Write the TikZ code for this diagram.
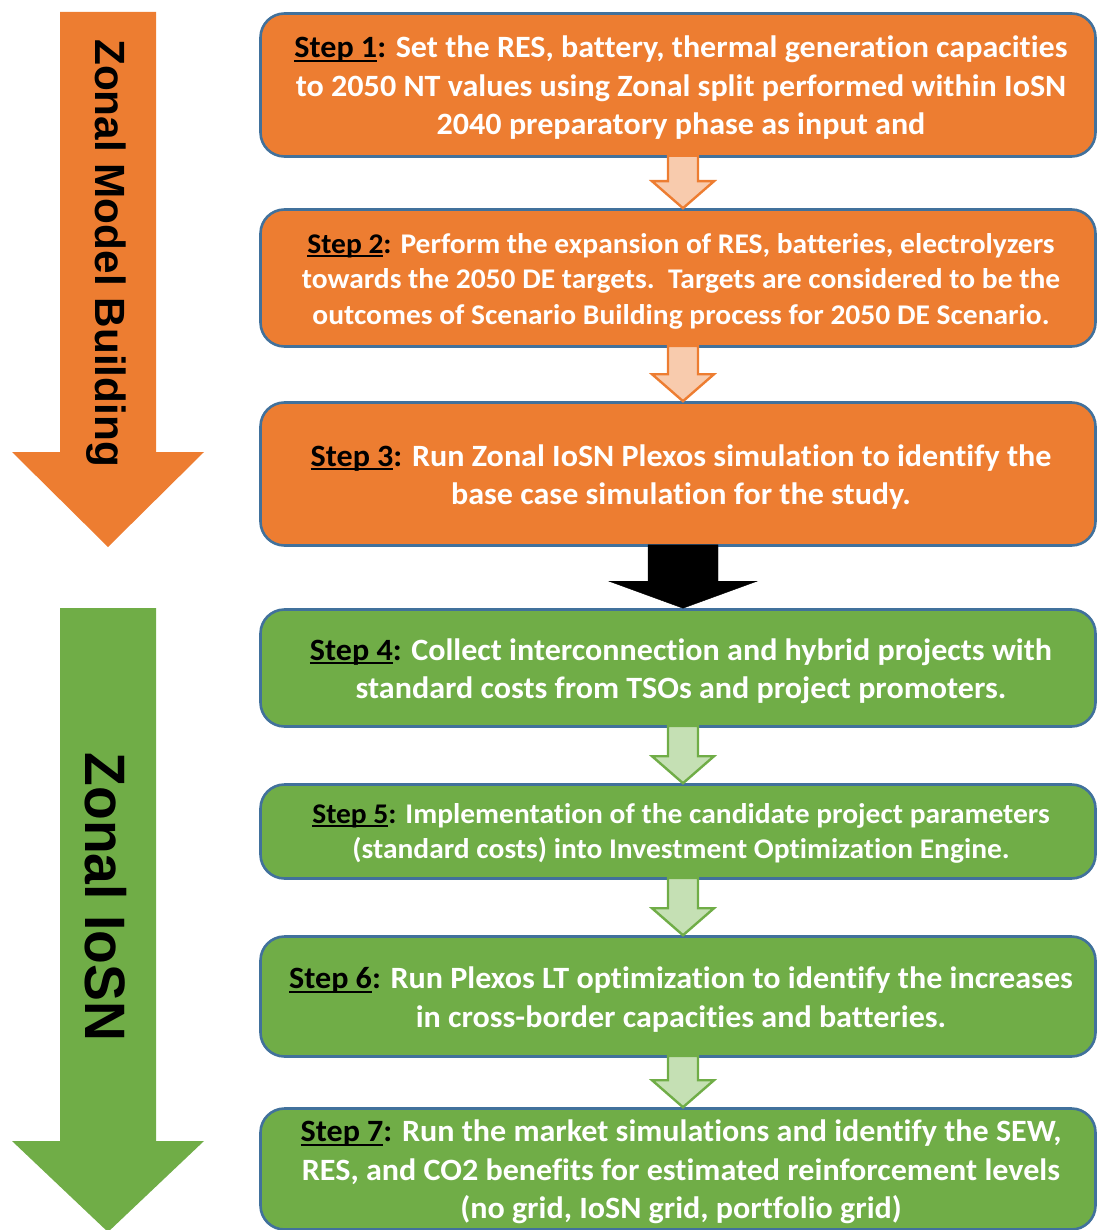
\documentclass[tikz,border=0pt]{standalone}
\usepackage{fontspec}
\setmainfont{Carlito}[Ligatures={NoCommon}, FakeStretch=1.035]
\newfontfamily\sidefont{Liberation Sans}
\newfontfamily\sidefontnarrow{Liberation Sans}[FakeStretch=0.97]
\usetikzlibrary{calc}

\definecolor{stepOrange}{HTML}{ED7D31}
\definecolor{stepGreen}{HTML}{70AD47}
\definecolor{edgeBlue}{HTML}{41719C}
\definecolor{paleOrange}{HTML}{F8CBAD}
\definecolor{paleGreen}{HTML}{C5E0B4}

% underlined step label in black, followed by a black colon
\newcommand\steplabel[1]{\textcolor{black}{\setbox0\hbox{Step #1}\rlap{\raisebox{-4pt}{\rule{\wd0}{1.9pt}}}\box0:}}

% block arrow linking two boxes: style, from, to, shaft half width, head half width, head length
\newcommand\linkarrow[6]{%
  \draw[#1] let \p1=($(#2.south)+(5pt,0)$), \p2=($(#3.north)+(5pt,0)$) in
    (\x1-#4,\y1+2pt) -- (\x1+#4,\y1+2pt) -- (\x1+#4,\y2+#6) -- (\x1+#5,\y2+#6)
    -- (\x2,\y2) -- (\x1-#5,\y2+#6) -- (\x1-#4,\y2+#6) -- cycle;}

\tikzset{
  stepbox/.style={draw=edgeBlue, line width=2.6pt, rounded corners=24pt,
    minimum width=835pt, inner sep=0pt},
  orangebox/.style={stepbox, fill=stepOrange},
  greenbox/.style={stepbox, fill=stepGreen},
  steptext/.style={align=center, text=white, inner sep=0pt,
    font=\bfseries\fontsize{31}{38.5}\selectfont},
  smalltext/.style={steptext, font=\bfseries\fontsize{28.5}{35.5}\selectfont},
  orangelink/.style={fill=paleOrange, draw=stepOrange, line width=2.4pt, line join=miter},
  greenlink/.style={fill=paleGreen, draw=stepGreen, line width=2.4pt, line join=miter},
  blacklink/.style={fill=black},
  sidelabel/.style={rotate=-90, text=black}
}

\begin{document}
\begin{tikzpicture}[x=1pt, y=-1pt]
\useasboundingbox (0,0) rectangle (1098,1230);

% side arrows
\fill[stepOrange] (60,12) -- (156,12) -- (156,452) -- (204,452) -- (108,547) -- (12,452) -- (60,452) -- cycle;
\fill[stepGreen] (60,608) -- (156,608) -- (156,1141) -- (204,1141) -- (108,1232) -- (12,1141) -- (60,1141) -- cycle;
\node[sidelabel, font=\sidefont\bfseries\fontsize{42.3}{42.3}\selectfont] (zmb) at (106,253) {Zonal Model Building};
\node[sidelabel, font=\sidefontnarrow\bfseries\fontsize{57}{57}\selectfont] (zio) at (106,897) {Zonal IoSN};

% step boxes
\node[orangebox, minimum height=143pt] (b1) at (678,85) {};
\node[orangebox, minimum height=137pt] (b2) at (678,278) {};
\node[orangebox, minimum height=143pt] (b3) at (678,474) {};
\node[greenbox, minimum height=117pt] (b4) at (678,668) {};
\node[greenbox, minimum height=94pt] (b5) at (678,831.5) {};
\node[greenbox, minimum height=120pt] (b6) at (678,996.5) {};
\node[greenbox, minimum height=121pt] (b7) at (678,1169) {};

% step texts
\node[steptext] (t1) at ($(b1.center)+(3,3)$)
  {\steplabel{1} Set the RES, battery, thermal generation capacities\\
   to 2050 NT values using Zonal split performed within IoSN\\
   2040 preparatory phase as input and};
\node[smalltext] (t2) at ($(b2.center)+(3,3)$)
  {\steplabel{2} Perform the expansion of RES, batteries, electrolyzers\\
   towards the 2050 DE targets.\ \ Targets are considered to be the\\
   outcomes of Scenario Building process for 2050 DE Scenario.};
\node[steptext] (t3) at ($(b3.center)+(3,3)$)
  {\steplabel{3} Run Zonal IoSN Plexos simulation to identify the\\
   base case simulation for the study.};
\node[steptext] (t4) at ($(b4.center)+(3,3)$)
  {\steplabel{4} Collect interconnection and hybrid projects with\\
   standard costs from TSOs and project promoters.};
\node[smalltext] (t5) at ($(b5.center)+(3,2)$)
  {\steplabel{5} Implementation of the candidate project parameters\\
   (standard costs) into Investment Optimization Engine.};
\node[steptext] (t6) at ($(b6.center)+(3,3)$)
  {\steplabel{6} Run Plexos LT optimization to identify the increases\\
   in cross-border capacities and batteries.};
\node[steptext] (t7) at ($(b7.center)+(3,3)$)
  {\steplabel{7} Run the market simulations and identify the SEW,\\
   RES, and CO2 benefits for estimated reinforcement levels\\
   (no grid, IoSN grid, portfolio grid)};

% links between steps
\linkarrow{orangelink}{b1}{b2}{15pt}{31pt}{27pt}
\linkarrow{orangelink}{b2}{b3}{15pt}{31pt}{27pt}
\linkarrow{blacklink}{b3}{b4}{35pt}{74pt}{27pt}
\linkarrow{greenlink}{b4}{b5}{15pt}{31pt}{27pt}
\linkarrow{greenlink}{b5}{b6}{15pt}{31pt}{27pt}
\linkarrow{greenlink}{b6}{b7}{15pt}{31pt}{27pt}
\end{tikzpicture}
\end{document}
